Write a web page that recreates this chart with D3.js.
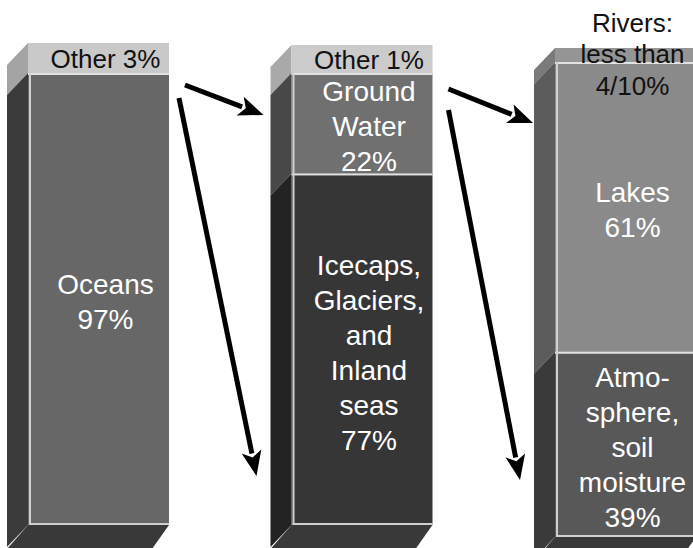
<!DOCTYPE html>
<html>
<head>
<meta charset="utf-8">
<script src="https://cdn.jsdelivr.net/npm/d3@7"></script>
<style>
  body { margin: 0; background: #fff; }
  svg { display: block; font-family: "Liberation Sans", Arial, sans-serif; }
</style>
</head>
<body>
<div id="chart"></div>
<script>
// data
var bars = ["All water", "Fresh water", "Surface fresh water"];
var capValues = [3, 1, 0.4];
var capLabels = [["Other 3%"], ["Other 1%"], ["Rivers:", "less than", "4/10%"]];
var segNames = [
    [["Oceans"]],
    [["Ground", "Water"], ["Icecaps,", "Glaciers,", "and", "Inland", "seas"]],
    [["Lakes"], ["Atmo-", "sphere,", "soil", "moisture"]]
];
var segValues = [[97], [22, 77], [61, 39]];

// look
var segFill = [["#676767"], ["#707070", "#363636"], ["#8a8a8a", "#585858"]];
var segSide = [["#3b3b3b"], ["#484848", "#232323"], ["#5c5c5c", "#3a3a3a"]];
var capFill = ["#c9c9c9", "#cbcbcb", "#959595"];
var capSide = ["#a4a4a4", "#a9a9a9", "#7a7a7a"];
var barTop = [43, 45, 48], barBottom = [525, 525, 537], capH = [30, 28, 14];

var W = 693, H = 548, depthX = 21, depthY = 22, lineH = 35;

var svg = d3.select("#chart").append("svg")
    .attr("width", W)
    .attr("height", H);

var x = d3.scaleBand()
    .domain(bars)
    .range([28, 696])
    .paddingInner(0.465)
    .paddingOuter(0)
    .align(0);
var bw = x.bandwidth();

function sidePoly(x0, yA, yB) {
    return [[x0, yA], [x0 - depthX, yA + depthY], [x0 - depthX, yB + depthY], [x0, yB]].join(" ");
}

function lines(g, cx, cy, arr, size, lh, color) {
    var t = g.append("text")
        .attr("x", cx)
        .attr("text-anchor", "middle")
        .attr("font-size", size)
        .attr("fill", color);
    var y0 = cy - (arr.length - 1) * lh / 2 + size * 0.35;
    arr.forEach(function(s, i) {
        t.append("tspan").attr("x", cx).attr("y", y0 + i * lh).text(s);
    });
}

bars.forEach(function(name, b) {
    var g = svg.append("g");
    var x0 = x(name), top = barTop[b], bottom = barBottom[b];
    var capBottom = top + capH[b];
    var total = d3.sum(segValues[b]);
    // segments stack downward from under the cap
    var y = d3.scaleLinear().domain([0, total]).range([capBottom, bottom]);

    // bottom face
    g.append("polygon")
        .attr("points", [[x0, bottom], [x0 + bw, bottom], [x0 + bw - depthX + 4, bottom + depthY + 2], [x0 - depthX, bottom + depthY + 2]].join(" "))
        .attr("fill", "#393939");

    // cap side + front
    g.append("polygon")
        .attr("points", sidePoly(x0, top, capBottom))
        .attr("fill", capSide[b]);
    g.append("rect")
        .attr("x", x0).attr("y", top)
        .attr("width", bw).attr("height", capH[b])
        .attr("fill", capFill[b]);

    var cum = 0;
    segValues[b].forEach(function(v, i) {
        var y1 = y(cum), y2 = y(cum + v);
        cum += v;
        g.append("polygon")
            .attr("points", sidePoly(x0, y1, y2))
            .attr("fill", segSide[b][i]);
        g.append("rect")
            .attr("x", x0).attr("y", y1)
            .attr("width", bw).attr("height", y2 - y1)
            .attr("fill", segFill[b][i]);
        // light separator on top of each segment
        g.append("rect")
            .attr("x", x0).attr("y", y1)
            .attr("width", bw).attr("height", 2)
            .attr("fill", "#e2e2e2");
        lines(g, x0 + bw / 2 + 7, (y1 + y2) / 2 + 3, segNames[b][i].concat([v + "%"]), 28, lineH, "#fff");
    });

    // light inset edges on the front
    g.append("rect").attr("x", x0 + 1).attr("y", capBottom).attr("width", 2).attr("height", bottom - capBottom).attr("fill", "#d0d0d0");
    g.append("rect").attr("x", x0 + 1).attr("y", bottom - 2).attr("width", bw - 1).attr("height", 2).attr("fill", "#d0d0d0");

    // cap label
    if (capLabels[b].length === 1) {
        lines(g, x0 + bw / 2 + 7, top + capH[b] / 2 + 1, capLabels[b], 26, 31, "#111");
    } else {
        lines(g, x0 + bw / 2 + 7, top + 6, capLabels[b], 26, 31.5, "#111");
    }
});

// arrows between bars
var arrows = [];
for (var i = 0; i < bars.length - 1; i++) {
    var right = x(bars[i]) + bw, next = x(bars[i + 1]);
    arrows.push({from: [right + 16, barTop[i] + 42 + i * 2], to: [next - 28 + i * 6, barTop[i + 1] + 70 + i * 5]});
    arrows.push({from: [right + 10 + i * 6, barTop[i] + 55 + i * 10], to: [next - 35, barBottom[i + 1] - 49 - i * 8]});
}

arrows.forEach(function(a) {
    var dx = a.to[0] - a.from[0], dy = a.to[1] - a.from[1];
    var len = Math.sqrt(dx * dx + dy * dy), ux = dx / len, uy = dy / len;
    var headL = 25, headW = 10;
    var bx = a.to[0] - ux * headL, by = a.to[1] - uy * headL;
    svg.append("line")
        .attr("x1", a.from[0]).attr("y1", a.from[1])
        .attr("x2", bx + ux * 2).attr("y2", by + uy * 2)
        .attr("stroke", "#000")
        .attr("stroke-width", 5);
    svg.append("polygon")
        .attr("points", [a.to, [bx - uy * headW, by + ux * headW], [bx + ux * 6, by + uy * 6], [bx + uy * headW, by - ux * headW]].join(" "))
        .attr("fill", "#000");
});
</script>
</body>
</html>
